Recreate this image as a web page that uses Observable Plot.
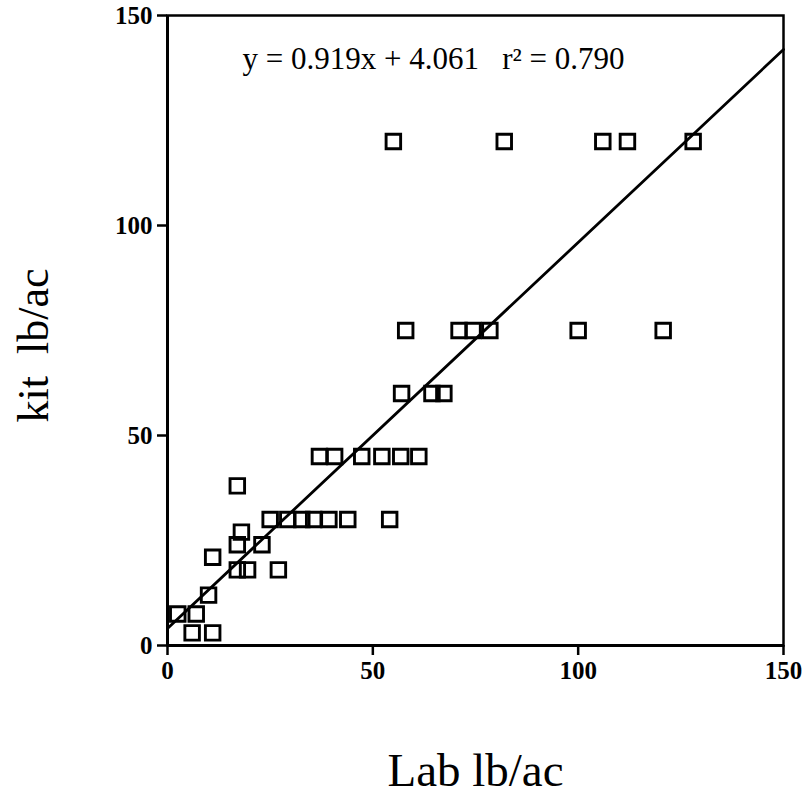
<!DOCTYPE html>
<html>
<head>
<meta charset="utf-8">
<script src="https://cdn.jsdelivr.net/npm/d3@7"></script>
<script src="https://cdn.jsdelivr.net/npm/@observablehq/plot@0.6"></script>
<style>
  html, body { margin: 0; padding: 0; background: #fff; }
  #chart svg { display: block; }
</style>
</head>
<body>
<div id="chart"></div>
<script>
// Lab measurement (x) and kit measurement (y), lb/ac
const labValues = [
  2.5, 7, 6, 11, 10, 11,
  17, 19.5, 27, 17, 23, 18, 17,
  25, 29.3, 32.7, 35.6, 39.3, 43.9, 54.1,
  37, 40.7, 47.3, 52.2, 56.8, 61.2,
  57, 64.4, 67.3,
  58, 71, 74.4, 78.5, 100, 120.7,
  55, 82, 106, 112, 128
];
const kitValues = [
  7.5, 7.5, 3, 3, 12, 21,
  18, 18, 18, 24, 24, 27, 38,
  30, 30, 30, 30, 30, 30, 30,
  45, 45, 45, 45, 45, 45,
  60, 60, 60,
  75, 75, 75, 75, 75, 75,
  120, 120, 120, 120, 120
];
const slope = 0.919;
const intercept = 4.061;
const equationText = ["y = 0.919x + 4.061   r\u00B2 = 0.790"];
const xTicks = [0, 50, 100, 150];
const yTicks = [0, 50, 100, 150];
const xLabel = ["Lab lb/ac"];
const yLabel = ["kit  lb/ac"];

const points = labValues.map((x, i) => ({x, y: kitValues[i]}));
const fitLine = [0, 150].map(x => ({x, y: intercept + slope * x}));

const serif = "'Liberation Serif', 'Times New Roman', serif";

const chart = Plot.plot({
  width: 806,
  height: 798,
  marginLeft: 167,
  marginRight: 23,
  marginTop: 15,
  marginBottom: 153,
  style: {fontFamily: serif, background: "#fff", color: "#000", fontSize: "25px"},
  x: {domain: [0, 150], ticks: xTicks},
  y: {domain: [0, 150], ticks: yTicks},
  marks: [
    Plot.frame({stroke: "#000", strokeWidth: 2.5}),
    Plot.axisX({ticks: xTicks, tickSize: 10, tickPadding: 6, tickFormat: d => String(d), fontSize: 25, fontWeight: "bold", strokeWidth: 2.5, label: null}),
    Plot.axisY({ticks: yTicks, tickSize: 10, tickPadding: 5, tickFormat: d => String(d), fontSize: 25, fontWeight: "bold", strokeWidth: 2.5, label: null}),
    Plot.ruleX([0], {stroke: "#000", strokeWidth: 3}),
    Plot.ruleY([0], {stroke: "#000", strokeWidth: 3}),
    Plot.line(fitLine, {x: "x", y: "y", stroke: "#000", strokeWidth: 2.8}),
    Plot.dot(points, {x: "x", y: "y", symbol: "square", r: 8.2, stroke: "#000", strokeWidth: 2.9, fill: "none"}),
    Plot.text(equationText, {text: d => d, frameAnchor: "top", textAnchor: "middle", dx: -42, dy: 44, fontSize: 31, fontWeight: "normal", fill: "#000", lineAnchor: "middle"}),
    Plot.text(yLabel, {text: d => d, frameAnchor: "left", textAnchor: "middle", dx: -134, dy: 15, rotate: -90, fontSize: 44, fontWeight: "normal", fill: "#000", lineAnchor: "middle"}),
    Plot.text(xLabel, {text: d => d, frameAnchor: "bottom", textAnchor: "middle", dx: 0, dy: 125, fontSize: 47, fontWeight: "normal", fill: "#000", lineAnchor: "middle"})
  ]
});
document.getElementById("chart").appendChild(chart);
</script>
</body>
</html>
